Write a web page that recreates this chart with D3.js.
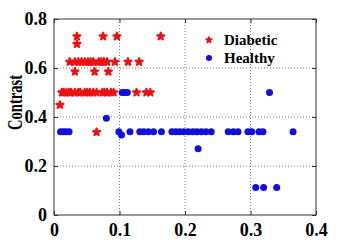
<!DOCTYPE html>
<html>
<head>
<meta charset="UTF-8">
<script src="https://d3js.org/d3.v7.min.js"></script>
<style>
  body { margin: 0; background: #fff; }
  text { font-family: "Liberation Serif", "Times New Roman", serif; font-weight: bold; }
</style>
</head>
<body>
<svg width="348" height="240"></svg>
<script>
// data: [homogeneity-ish x, contrast y]
const diabeticX = [0.035, 0.075, 0.096, 0.163, 0.035,
  0.024, 0.032, 0.037, 0.042, 0.047, 0.052, 0.056, 0.060, 0.068, 0.072, 0.076, 0.081, 0.093, 0.113, 0.130,
  0.032, 0.062, 0.083,
  0.012, 0.015, 0.019, 0.023, 0.026, 0.032, 0.037, 0.040, 0.047, 0.051, 0.055, 0.060, 0.065, 0.074, 0.077, 0.081, 0.087, 0.091, 0.126, 0.141, 0.147,
  0.009, 0.065];
const diabeticY = [0.729, 0.729, 0.729, 0.729, 0.698,
  0.625, 0.625, 0.625, 0.625, 0.625, 0.625, 0.625, 0.625, 0.625, 0.625, 0.625, 0.625, 0.625, 0.625, 0.625,
  0.585, 0.585, 0.585,
  0.5, 0.5, 0.5, 0.5, 0.5, 0.5, 0.5, 0.5, 0.5, 0.5, 0.5, 0.5, 0.5, 0.5, 0.5, 0.5, 0.5, 0.5, 0.5, 0.5, 0.5,
  0.449, 0.338];

const healthyX = [0.104, 0.108, 0.112, 0.329, 0.080,
  0.010, 0.014, 0.018, 0.023, 0.099, 0.116, 0.131, 0.137, 0.144, 0.152, 0.164,
  0.180, 0.186, 0.192, 0.198, 0.205, 0.212, 0.218, 0.225, 0.232, 0.240,
  0.266, 0.274, 0.281, 0.296, 0.302, 0.313, 0.319, 0.365,
  0.103, 0.220, 0.308, 0.320, 0.340];
const healthyY = [0.5, 0.5, 0.5, 0.5, 0.395,
  0.34, 0.34, 0.34, 0.34, 0.34, 0.34, 0.34, 0.34, 0.34, 0.34, 0.34,
  0.34, 0.34, 0.34, 0.34, 0.34, 0.34, 0.34, 0.34, 0.34, 0.34,
  0.34, 0.34, 0.34, 0.34, 0.34, 0.34, 0.34, 0.34,
  0.327, 0.27, 0.112, 0.112, 0.112];

const xTicks = [0, 0.1, 0.2, 0.3, 0.4];
const yTicks = [0, 0.2, 0.4, 0.6, 0.8];
const seriesNames = ["Diabetic", "Healthy"];
const seriesColors = ["#ee1111", "#1010dd"];

const margin = { top: 19, right: 32, bottom: 25, left: 54 };
const width = 348, height = 240;
const svg = d3.select("svg");

const x = d3.scaleLinear().domain([0, 0.4]).range([margin.left, width - margin.right]);
const y = d3.scaleLinear().domain([0, 0.8]).range([height - margin.bottom, margin.top]);

// grid
const grid = svg.append("g").attr("stroke", "#555").attr("stroke-width", 0.8).attr("stroke-dasharray", "1,2");
grid.selectAll(".gx").data(xTicks.slice(1, -1)).join("line")
  .attr("x1", d => x(d)).attr("x2", d => x(d)).attr("y1", y(0)).attr("y2", y(0.8));
grid.selectAll(".gy").data(yTicks.slice(1, -1)).join("line")
  .attr("y1", d => y(d)).attr("y2", d => y(d)).attr("x1", x(0)).attr("x2", x(0.4));

// axes with inward ticks (box style)
const fmt = d => d === 0 ? "0" : d3.format(".1f")(d);
function styleAxis(g) {
  g.select(".domain").remove();
  g.selectAll("line").attr("stroke", "#333");
  g.selectAll("text").attr("fill", "#000").style("font-size", "18px");
}
svg.append("g").attr("transform", `translate(0,${y(0)})`)
  .call(d3.axisBottom(x).tickValues(xTicks).tickFormat(fmt).tickSizeInner(-4).tickPadding(8))
  .call(styleAxis);
svg.append("g").attr("transform", `translate(${x(0)},0)`)
  .call(d3.axisLeft(y).tickValues(yTicks).tickFormat(fmt).tickSizeInner(-4).tickPadding(7))
  .call(styleAxis);
svg.append("g").attr("transform", `translate(0,${y(0.8)})`)
  .call(d3.axisTop(x).tickValues(xTicks).tickFormat("").tickSizeInner(-4))
  .call(styleAxis);
svg.append("g").attr("transform", `translate(${x(0.4)},0)`)
  .call(d3.axisRight(y).tickValues(yTicks).tickFormat("").tickSizeInner(-4))
  .call(styleAxis);

svg.append("rect")
  .attr("x", x(0)).attr("y", y(0.8))
  .attr("width", x(0.4) - x(0)).attr("height", y(0) - y(0.8))
  .attr("fill", "none").attr("stroke", "#333").attr("stroke-width", 1);

// y label (squeezed along its length like the original)
svg.append("text")
  .attr("transform", `translate(22,${103 + 27}) rotate(-90)`)
  .attr("textLength", 55).attr("lengthAdjust", "spacingAndGlyphs")
  .style("font-size", "21px")
  .text("Contrast");

// points
const star = d3.symbol().type(d3.symbolStar).size(16);
svg.append("g").selectAll("path").data(diabeticX).join("path")
  .attr("transform", (d, i) => `translate(${x(d)},${y(diabeticY[i])})`)
  .attr("d", star).attr("fill", seriesColors[0])
  .attr("stroke", seriesColors[0]).attr("stroke-width", 2).attr("stroke-linejoin", "round");
svg.append("g").selectAll("circle").data(healthyX).join("circle")
  .attr("cx", d => x(d)).attr("cy", (d, i) => y(healthyY[i]))
  .attr("r", 3.5).attr("fill", seriesColors[1]);

// legend
const leg = svg.append("g").attr("transform", "translate(209,40)");
seriesNames.forEach((name, i) => {
  const row = leg.append("g").attr("transform", `translate(0,${i * 18})`);
  if (i === 0) row.append("path").attr("d", d3.symbol().type(d3.symbolStar).size(10)).attr("fill", seriesColors[0])
    .attr("stroke", seriesColors[0]).attr("stroke-width", 1.6).attr("stroke-linejoin", "round");
  else row.append("circle").attr("r", 3).attr("fill", seriesColors[1]);
  row.append("text").attr("x", 15).attr("dy", "0.35em").style("font-size", "15px").text(name);
});
</script>
</body>
</html>
